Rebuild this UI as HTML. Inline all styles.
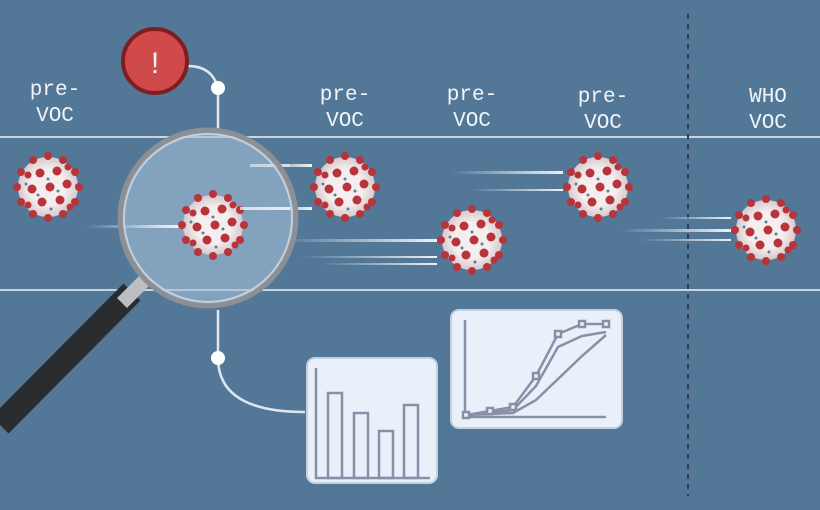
<!DOCTYPE html>
<html><head><style>
body{margin:0;background:#527797;}
svg{display:block}
text{font-family:"Liberation Mono",monospace;font-size:21px;fill:#f2f4f8;text-anchor:middle}
</style></head><body>
<svg width="820" height="510" viewBox="0 0 820 510">
<defs>
<radialGradient id="vg" cx="0.5" cy="0.5" r="0.5"><stop offset="0.6" stop-color="#f4eeee"/><stop offset="1" stop-color="#d8c8cc"/></radialGradient>
<linearGradient id="sl" x1="0" x2="1" y1="0" y2="0"><stop offset="0" stop-color="#fff" stop-opacity="0"/><stop offset="1" stop-color="#fff" stop-opacity="0.9"/></linearGradient>
<g id="v">
<circle r="30" fill="url(#vg)"/>
<g fill="#b8343a">
<circle cx="0" cy="-31" r="4"/><circle cx="15" cy="-27" r="4"/><circle cx="27" cy="-15" r="4"/><circle cx="31" cy="0" r="4"/><circle cx="27" cy="15" r="4"/><circle cx="15" cy="27" r="4"/><circle cx="0" cy="31" r="4"/><circle cx="-15" cy="27" r="4"/><circle cx="-27" cy="15" r="4"/><circle cx="-31" cy="0" r="4"/><circle cx="-27" cy="-15" r="4"/><circle cx="-15" cy="-27" r="4"/>
<circle cx="-8" cy="-14" r="4.5"/><circle cx="9" cy="-16" r="4.5"/><circle cx="19" cy="-3" r="4.5"/><circle cx="2" cy="0" r="4.5"/><circle cx="-16" cy="2" r="4.5"/><circle cx="-6" cy="15" r="4.5"/><circle cx="12" cy="13" r="4.5"/><circle cx="-20" cy="-12" r="3.5"/><circle cx="20" cy="-20" r="3.5"/><circle cx="-20" cy="18" r="3.5"/><circle cx="22" cy="20" r="3.5"/>
</g>
<g fill="#5a7f98"><circle cx="0" cy="-8" r="1.5"/><circle cx="-10" cy="8" r="1.5"/><circle cx="10" cy="4" r="1.5"/><circle cx="3" cy="22" r="1.5"/><circle cx="-22" cy="-3" r="1.5"/></g>
</g>
</defs>
<line x1="0" y1="137" x2="820" y2="137" stroke="#c7d3e0" stroke-width="2"/>
<line x1="0" y1="290" x2="820" y2="290" stroke="#c7d3e0" stroke-width="2"/>
<line x1="688" y1="14" x2="688" y2="496" stroke="#2c3f52" stroke-width="2" stroke-dasharray="5,5"/>
<text x="55" y="95">pre-</text><text x="55" y="121">VOC</text>
<text x="345" y="100">pre-</text><text x="345" y="126">VOC</text>
<text x="472" y="100">pre-</text><text x="472" y="126">VOC</text>
<text x="603" y="102">pre-</text><text x="603" y="128">VOC</text>
<text x="768" y="102">WHO</text><text x="768" y="128">VOC</text>
<!-- speed lines -->
<g fill="url(#sl)">
<rect x="85" y="225" width="95" height="3"/>
<rect x="250" y="164" width="62" height="3"/><rect x="250" y="207" width="62" height="3"/>
<rect x="280" y="239" width="157" height="3"/><rect x="300" y="256" width="137" height="2"/><rect x="320" y="263" width="117" height="2"/>
<rect x="450" y="171" width="113" height="3"/><rect x="470" y="189" width="93" height="2"/>
<rect x="620" y="229" width="111" height="3"/><rect x="660" y="217" width="71" height="2"/><rect x="640" y="239" width="91" height="2"/>
</g>
<use href="#v" x="48" y="187"/>
<use href="#v" x="345" y="187"/>
<use href="#v" x="472" y="240"/>
<use href="#v" x="598" y="187"/>
<use href="#v" x="766" y="230"/>
<!-- connectors -->
<path d="M188 66 Q212 66 218 88 V130" fill="none" stroke="#dfe6ee" stroke-width="2.5"/>
<circle cx="218" cy="88" r="7" fill="#fff"/>
<path d="M218 310 V358 Q218 412 305 412" fill="none" stroke="#dfe6ee" stroke-width="2.5"/>
<circle cx="218" cy="358" r="7" fill="#fff"/>
<circle cx="155" cy="61" r="32" fill="#cf4a48" stroke="#7e1e22" stroke-width="4"/>
<text x="155" y="73" style="font-family:'Liberation Sans',sans-serif;font-size:30px">!</text>
<!-- lens -->
<line x1="132" y1="292" x2="0" y2="425" stroke="#2a2c30" stroke-width="24"/>
<line x1="148" y1="277" x2="122" y2="303" stroke="#bbbfc4" stroke-width="14"/>
<circle cx="208" cy="218" r="88" fill="#a4c0d8" fill-opacity="0.6"/>
<rect x="130" y="225" width="60" height="3" fill="url(#sl)"/>
<use href="#v" x="213" y="225"/>
<rect x="240" y="207" width="50" height="3" fill="#fff" opacity="0.7"/>
<rect x="250" y="164" width="40" height="3" fill="#fff" opacity="0.5"/>
<circle cx="208" cy="218" r="88" fill="none" stroke="#8b9097" stroke-width="5"/>
<circle cx="208" cy="218" r="84" fill="none" stroke="#c9ced4" stroke-width="2"/>
<!-- bar chart -->
<rect x="307" y="358" width="130" height="125" rx="8" fill="#eaf0fa" stroke="#c4d0e0" stroke-width="2"/>
<g stroke="#8890a8" stroke-width="2.5" fill="none">
<path d="M316 368 V478 H430"/>
<rect x="328" y="393" width="14" height="85"/><rect x="354" y="413" width="14" height="65"/><rect x="379" y="431" width="14" height="47"/><rect x="404" y="405" width="14" height="73"/>
</g>
<!-- line chart -->
<rect x="451" y="310" width="171" height="118" rx="8" fill="#eaf0fa" stroke="#c4d0e0" stroke-width="2"/>
<g stroke="#8890a8" stroke-width="2.5" fill="none">
<path d="M465 320 V417 H606"/>
<path d="M466 415 L490 411 L513 407 L536 376 L558 334 L582 324 L606 324"/>
<path d="M466 415 L490 413 L513 410 L536 386 L558 347 L582 336 L606 332"/>
<path d="M466 415 L490 414 L513 413 L536 400 L558 379 L582 356 L606 335"/>
<g fill="#eaf0fa"><rect x="533" y="373" width="6" height="6"/><rect x="555" y="331" width="6" height="6"/><rect x="579" y="321" width="6" height="6"/><rect x="603" y="321" width="6" height="6"/><rect x="487" y="408" width="6" height="6"/><rect x="510" y="404" width="6" height="6"/><rect x="463" y="412" width="6" height="6"/></g>
</g>
</svg>
</body></html>
